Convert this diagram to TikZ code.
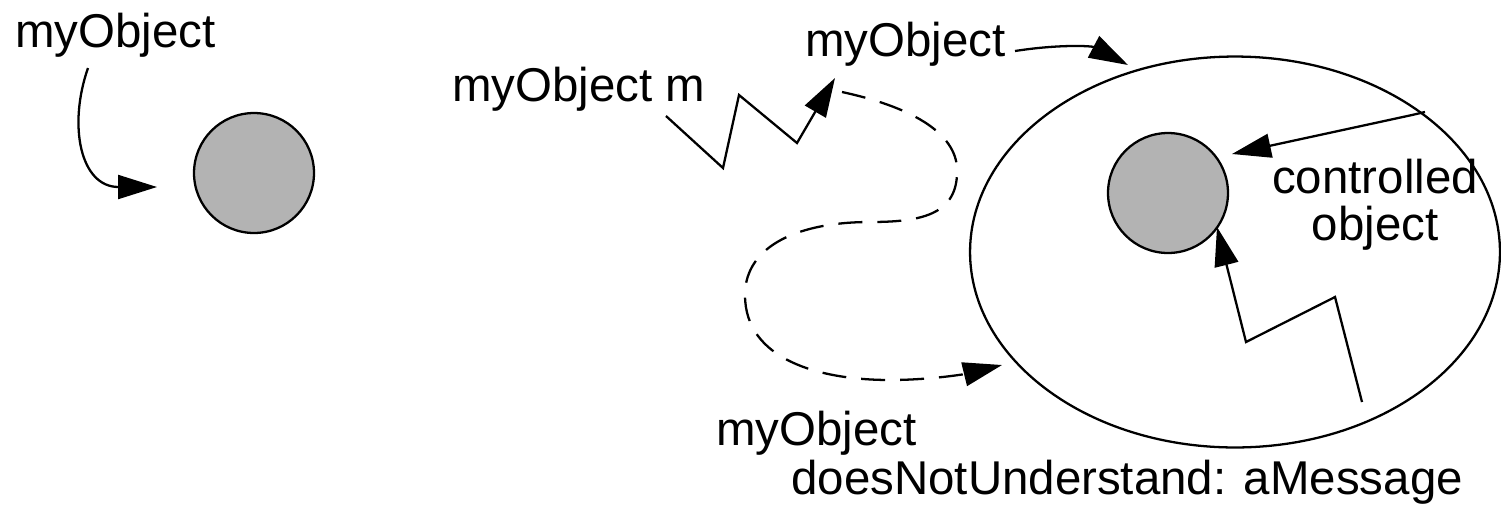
\documentclass[tikz,border=0pt]{standalone}
\definecolor{objGray}{RGB}{179, 179, 179}
\usepackage{fontspec}
\setmainfont{Liberation Sans}
\usepackage{tikz}
\usetikzlibrary{shapes.geometric, arrows.meta, positioning}
\tikzset{
  objdot/.style={circle, draw=black, line width=1.3pt, fill=objGray, minimum size=2.4cm, inner sep=0pt},
  wrapper/.style={ellipse, draw=black, line width=1.3pt, minimum width=10.6cm, minimum height=7.82cm, inner sep=0pt},
  lbl/.style={inner sep=0pt, font=\fontsize{27}{26.6}\selectfont},
  msgarrow/.style={-{Triangle[length=0.78cm, width=0.48cm]}, line width=1.3pt},
  fwdarrow/.style={msgarrow, dash pattern=on 0.48cm off 0.3cm},
}
\begin{document}
\begin{tikzpicture}[x=0.02cm, y=-0.02cm]
  \useasboundingbox (0,0) rectangle (1501,505);

  \node[lbl, anchor=base west] (plainName) at (15,47) {myObject};
  \node[objdot] (plainObj) at (254,173) {};
  \coordinate (plainFrom) at (88,68);
  \coordinate (plainTo) at (157,187);
  \draw[msgarrow] (plainFrom) .. controls (68,125) and (80,187) .. (plainTo);

  \node[lbl, anchor=base west] (sendMsg) at (452,101) {myObject m};
  \node[lbl, anchor=base west] (proxyName) at (805,56) {myObject};
  \node[wrapper] (proxy) at (1235,252) {};
  \node[objdot] (realObj) at (1168,193) {};
  \node[lbl, align=center, anchor=base] (realLbl) at (1375,240) {controlled\\object};
  \node[lbl, anchor=base west] (dnuName) at (716,445) {myObject};
  \node[lbl, anchor=base west] (dnuMsg) at (791,494) {doesNotUnderstand: aMessage};

  \coordinate (sendFrom) at (666,116);
  \coordinate (sendTo) at (835,78);
  \draw[msgarrow] (sendFrom) -- (723,168) -- (739,95) -- (797,143) -- (sendTo);

  \coordinate (nameFrom) at (1015,51);
  \coordinate (nameTo) at (1128,65);
  \draw[msgarrow] (nameFrom) .. controls (1060,44) and (1092,46) .. (nameTo);

  \coordinate (fwdFrom) at (842,92);
  \coordinate (fwdTo) at (1002,365);
  \draw[fwdarrow] (fwdFrom) .. controls (925,110) and (960,140) .. (957,175)
    .. controls (955,215) and (920,222) .. (870,222)
    .. controls (800,222) and (745,245) .. (745,295)
    .. controls (745,360) and (820,380) .. (890,380)
    .. controls (930,380) and (965,374) .. (fwdTo);

  \coordinate (ctrlFrom) at (1425,112);
  \coordinate (ctrlTo) at (1232,154);
  \draw[msgarrow] (ctrlFrom) -- (1412,115) -- (ctrlTo);

  \coordinate (callFrom) at (1362,402);
  \coordinate (callTo) at (1217,227);
  \draw[msgarrow] (callFrom) -- (1335,297) -- (1246,342) -- (callTo);
\end{tikzpicture}
\end{document}
